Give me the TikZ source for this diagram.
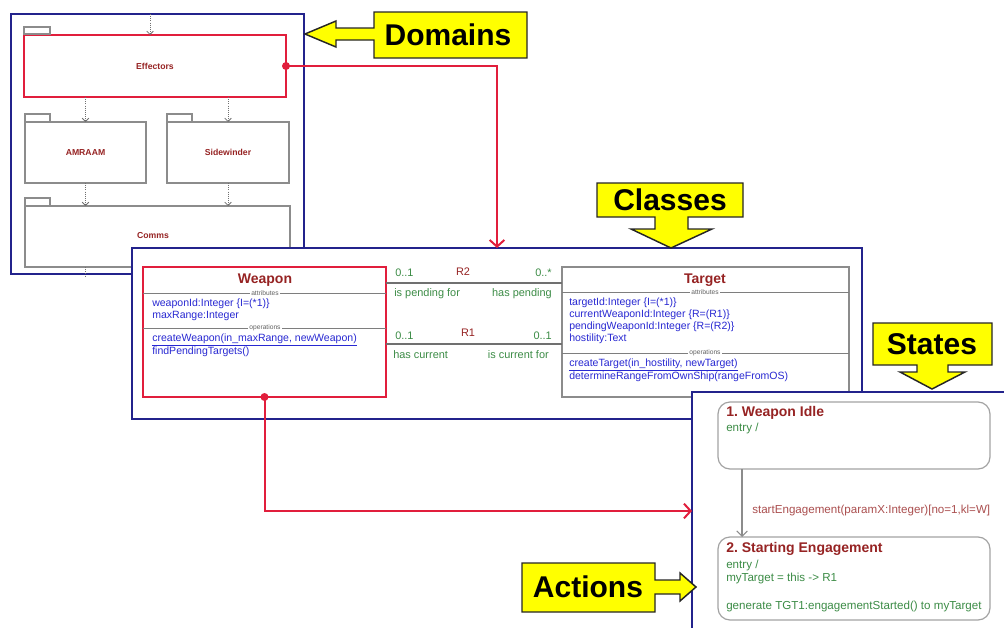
\documentclass[tikz,border=0pt]{standalone}
\usepackage{fontspec}
\setmainfont{Liberation Sans}
\usetikzlibrary{arrows.meta,fit,calc}
\definecolor{navy}{RGB}{35,35,140}
\definecolor{myred}{RGB}{225,30,60}
\definecolor{dred}{RGB}{150,35,35}
\definecolor{tblue}{RGB}{40,40,210}
\definecolor{tgreen}{RGB}{60,140,70}
\definecolor{pkggray}{RGB}{140,140,140}
\definecolor{callyellow}{RGB}{255,255,0}
\newcommand\fpkg{\fontsize{6.5}{7.5}\selectfont\bfseries}
\newcommand\fattr{\fontsize{7.9}{9}\selectfont}
\newcommand\fassoc{\fontsize{8.2}{9}\selectfont}
\newcommand\fstate{\fontsize{8.7}{10}\selectfont}
\newcommand\ftiny{\fontsize{5}{6}\selectfont}
\newcommand\fctitle{\fontsize{10.5}{12}\selectfont\bfseries}
\newcommand\fcall{\fontsize{22.5}{26}\selectfont\bfseries}
\frenchspacing
\begin{document}
\begin{tikzpicture}[x=0.75pt,y=-0.75pt,
  frame/.style={draw=navy, line width=1.9pt, fill=white, inner sep=0pt, outer sep=0pt},
  pkg/.style={draw=pkggray, line width=1.1pt, fill=white, inner sep=0pt, outer sep=0pt},
  redpkg/.style={draw=myred, line width=2.2pt, fill=white, inner sep=0pt, outer sep=0pt},
  classbox/.style={draw=pkggray, line width=0.9pt, fill=white, inner sep=0pt, outer sep=0pt},
  redclass/.style={draw=myred, line width=2pt, fill=white, inner sep=0pt, outer sep=0pt},
  statebox/.style={draw=pkggray!80, line width=0.9pt, fill=white, rounded corners=9pt, inner sep=0pt, outer sep=0pt},
  sep/.style={draw=pkggray!90!black, line width=0.7pt},
  seplab/.style={fill=white, inner sep=1pt, text=pkggray!70!black, font=\ftiny},
  dep/.style={draw=pkggray!80!black, densely dotted, line width=0.6pt, -{Straight Barb[length=2.5pt,width=5pt]}},
  redconn/.style={draw=myred, line width=1.5pt, -{Straight Barb[length=5pt,width=11pt]}},
  assoc/.style={draw=pkggray!80!black, line width=0.8pt},
  trans/.style={draw=pkggray, line width=0.8pt, -{Straight Barb[length=4pt,width=8pt]}},
  txt/.style={inner sep=0pt, anchor=west},
  rtxt/.style={inner sep=0pt, anchor=east},
  pkgtxt/.style={inner sep=0pt, text=dred, font=\fpkg},
  callout/.style={draw=black!85, line width=1.1pt, fill=callyellow, line join=miter},
  calltxt/.style={inner sep=0pt, font=\fcall}
]
\useasboundingbox (0,0) rectangle (1004,628);
\clip (0,0) rectangle (1004,628);

% ---------------- Domains panel ----------------
\node[frame, fit={(11,14) (304,274)}] (dom) {};
\node[redpkg, fit={(24,35) (286,97)}] (eff) {};
\draw[pkg] (eff.north west) ++(0,-1) rectangle ++(26,-7);
\node[pkgtxt] (efft) at (eff.center) {Effectors};
\node[pkg, fit={(25,122) (146,183)}] (amr) {};
\draw[pkg] (amr.north west) rectangle ++(25,-8);
\node[pkgtxt] (amrt) at (amr.center) {AMRAAM};
\node[pkg, fit={(167,122) (289,183)}] (sw) {};
\draw[pkg] (sw.north west) rectangle ++(25,-8);
\node[pkgtxt] (swt) at (sw.center) {Sidewinder};
\node[pkg, fit={(25,206) (290,267)}] (comms) {};
\draw[pkg] (comms.north west) rectangle ++(25,-8);
\node[pkgtxt] (commst) at (153,236) {Comms};
\coordinate (topin) at (150,14);
\draw[dep] (topin) -- (topin |- eff.north);
\draw[dep] (eff.south -| amr.north) -- (amr.north);
\draw[dep] (eff.south -| sw.north) -- (sw.north);
\draw[dep] (amr.south) -- (amr.south |- comms.north);
\draw[dep] (sw.south) -- (sw.south |- comms.north);
\coordinate (commsout) at (85,276);
\draw[pkggray!80!black, densely dotted, line width=0.6pt] (commsout |- comms.south) -- (commsout);

% ---------------- Classes panel ----------------
\node[frame, fit={(132,248) (862,419)}] (cls) {};
% Weapon
\node[redclass, fit={(143,267) (386,397)}] (wpn) {};
\node[inner sep=0pt, text=dred, font=\fctitle] (wpnt) at (265,280) {Weapon};
\draw[sep] (143,293) -- (386,293);
\node[seplab] (wpnattr) at (265,293) {attributes};
\node[txt, text=tblue, font=\fattr] (wa1) at (152,304) {weaponId:Integer \{I=(*1)\}};
\node[txt, text=tblue, font=\fattr] (wa2) at (152,316) {maxRange:Integer};
\draw[sep] (143,328) -- (386,328);
\node[seplab] (wpnops) at (265,328) {operations};
\node[txt, text=tblue, font=\fattr] (wo1) at (152,340) {\underline{createWeapon(in\_maxRange, newWeapon)}};
\node[txt, text=tblue, font=\fattr] (wo2) at (152,352) {findPendingTargets()};
% Target
\node[classbox, fit={(562,267) (849,397)}] (tgt) {};
\node[inner sep=0pt, text=dred, font=\fctitle] (tgtt) at (705,280) {Target};
\draw[sep] (562,292) -- (849,292);
\node[seplab] (tgtattr) at (705,292) {attributes};
\node[txt, text=tblue, font=\fattr] (ta1) at (569,303) {targetId:Integer \{I=(*1)\}};
\node[txt, text=tblue, font=\fattr] (ta2) at (569,315) {currentWeaponId:Integer \{R=(R1)\}};
\node[txt, text=tblue, font=\fattr] (ta3) at (569,327) {pendingWeaponId:Integer \{R=(R2)\}};
\node[txt, text=tblue, font=\fattr] (ta4) at (569,339) {hostility:Text};
\draw[sep] (562,353) -- (849,353);
\node[seplab] (tgtops) at (705,353) {operations};
\node[txt, text=tblue, font=\fattr] (to1) at (569,365) {\underline{createTarget(in\_hostility, newTarget)}};
\node[txt, text=tblue, font=\fattr] (to2) at (569,377) {determineRangeFromOwnShip(rangeFromOS)};
% Associations
\coordinate (r2w) at (386,283);
\coordinate (r1w) at (386,344);
\draw[assoc] (r2w) -- (r2w -| tgt.west);
\draw[assoc] (r1w) -- (r1w -| tgt.west);
\node[txt, text=tgreen, font=\fassoc] (r2a) at (395,273) {0..1};
\node[inner sep=0pt, text=dred, font=\fassoc] (r2) at (463,272) {R2};
\node[rtxt, text=tgreen, font=\fassoc] (r2b) at (552,273) {0..*};
\node[txt, text=tgreen, font=\fassoc] (r2c) at (394,294) {is pending for};
\node[rtxt, text=tgreen, font=\fassoc] (r2d) at (552,294) {has pending};
\node[txt, text=tgreen, font=\fassoc] (r1a) at (395,336) {0..1};
\node[inner sep=0pt, text=dred, font=\fassoc] (r1) at (468,333) {R1};
\node[rtxt, text=tgreen, font=\fassoc] (r1b) at (552,336) {0..1};
\node[txt, text=tgreen, font=\fassoc] (r1c) at (393,355) {has current};
\node[rtxt, text=tgreen, font=\fassoc] (r1d) at (549,355) {is current for};

% ---------------- States panel ----------------
\node[frame, fit={(692,392) (1015,640)}] (sts) {};
\node[statebox, fit={(718,402) (990,469)}] (s1) {};
\node[txt, text=dred, font=\fctitle] (s1t) at (726,413) {1. Weapon Idle};
\node[txt, text=tgreen, font=\fstate] (s1e) at (726,428) {entry /};
\node[statebox, fit={(718,537) (990,620)}] (s2) {};
\node[txt, text=dred, font=\fctitle] (s2t) at (726,549) {2. Starting Engagement};
\node[txt, text=tgreen, font=\fstate] (s2e) at (726,565) {entry /};
\node[txt, text=tgreen, font=\fstate] (s2a) at (726,578) {myTarget = this -> R1};
\node[txt, text=tgreen, font=\fstate] (s2b) at (726,606) {generate TGT1:engagementStarted() to myTarget};
\coordinate (tx) at (742,0);
\draw[trans] (tx |- s1.south) -- (tx |- s2.north);
\node[txt, text=dred!80, font=\fstate] (tl) at (752,510) {startEngagement(paramX:Integer)[no=1,kl=W]};

% ---------------- Red connectors ----------------
\coordinate (clsin) at (497,248);
\draw[redconn] (eff.east) -| (clsin);
\fill[myred] (eff.east) circle (3pt);
\coordinate (stsin) at (692,511);
\draw[redconn] (wpn.south) |- (stsin);
\fill[myred] (wpn.south) circle (3pt);

% ---------------- Callouts ----------------
\draw[callout] (527,12) -- (374,12) -- (374,28) -- (336,28) -- (336,21) -- (305,34) -- (336,47) -- (336,40) -- (374,40) -- (374,58) -- (527,58) -- cycle;
\node[calltxt] (domc) at (448,35) {Domains};
\draw[callout] (597,183) -- (743,183) -- (743,217) -- (688,217) -- (688,229) -- (712,229) -- (671,248) -- (631,229) -- (655,229) -- (655,217) -- (597,217) -- cycle;
\node[calltxt] (clsc) at (670,200) {Classes};
\draw[callout] (873,323) -- (992,323) -- (992,365) -- (948,365) -- (948,372) -- (965,372) -- (932,389) -- (900,372) -- (917,372) -- (917,365) -- (873,365) -- cycle;
\node[calltxt] (stsc) at (932,344) {States};
\draw[callout] (522,563) -- (655,563) -- (655,580) -- (680,580) -- (680,573) -- (696,587) -- (680,601) -- (680,594) -- (655,594) -- (655,612) -- (522,612) -- cycle;
\node[calltxt] (actc) at (588,587) {Actions};
\end{tikzpicture}
\end{document}
